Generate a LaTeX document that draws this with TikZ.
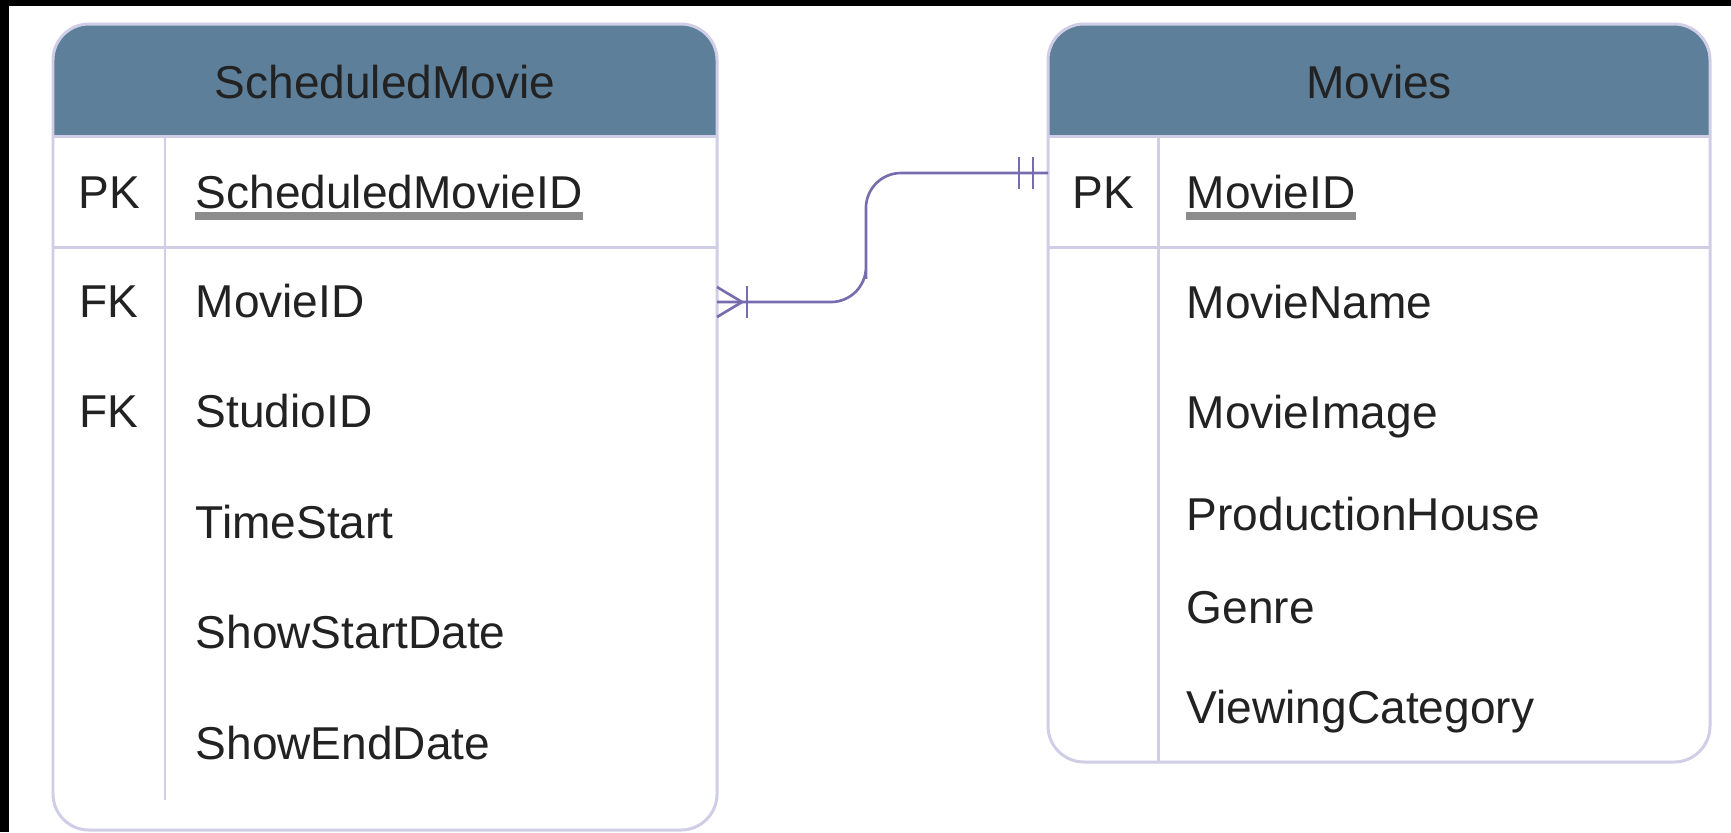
\documentclass[tikz,border=0pt]{standalone}
\usepackage{fontspec}
\setmainfont{Liberation Sans}
\usetikzlibrary{calc}
\definecolor{hdrblue}{HTML}{5D7F99}
\definecolor{edgelav}{HTML}{D0CEE6}
\definecolor{relpurple}{HTML}{776DAE}
\definecolor{txtgray}{HTML}{222222}
\definecolor{ulgray}{HTML}{8C8C8C}

\begin{document}
\begin{tikzpicture}[x=0.01cm,y=-0.01cm,
    txt/.style={inner sep=0pt,text=txtgray,font=\fontsize{13.1}{15}\selectfont},
    field/.style={txt,anchor=base west},
    keytag/.style={txt,anchor=base},
    title/.style={txt,anchor=base},
    grid/.style={edgelav,line width=0.85pt},
    rel/.style={relpurple,line width=0.75pt},
    pkline/.style={ulgray,line width=2.3pt},
    roundbox/.style={rounded corners=0.36cm}]
  \fill[black] (0,0) rectangle (1731,832);
  \fill[white] (9,6) rectangle (1731,832);
  \useasboundingbox (0,0) rectangle (1731,832);

  % ScheduledMovie
  \fill[white,roundbox] (53,24) rectangle (717,830);
  \begin{scope}
    \clip[roundbox] (53,24) rectangle (717,830);
    \fill[hdrblue] (53,24) rectangle (717,136);
  \end{scope}
  \draw[grid] (53,136) -- (717,136);
  \draw[grid] (53,247) -- (717,247);
  \draw[grid] (165,136) -- (165,800);
  \draw[grid,roundbox] (53,24) rectangle (717,830);
  \node[title] (smtitle) at (385,98) {ScheduledMovie};
  \node[keytag] (smk0) at (109,208) {PK};
  \node[field] (smf0) at (195,208) {ScheduledMovieID};
  \draw[pkline] ($(smf0.base west)+(0,8)$) -- ($(smf0.base east)+(0,8)$);
  \node[keytag] (smk1) at (109,317) {FK};
  \node[field] (smf1) at (195,317) {MovieID};
  \node[keytag] (smk2) at (109,427) {FK};
  \node[field] (smf2) at (195,427) {StudioID};
  \node[field] (smf3) at (195,538) {TimeStart};
  \node[field] (smf4) at (195,648) {ShowStartDate};
  \node[field] (smf5) at (195,759) {ShowEndDate};

  % Movies
  \fill[white,roundbox] (1048,24) rectangle (1710,762);
  \begin{scope}
    \clip[roundbox] (1048,24) rectangle (1710,762);
    \fill[hdrblue] (1048,24) rectangle (1710,136);
  \end{scope}
  \draw[grid] (1048,136) -- (1710,136);
  \draw[grid] (1048,247) -- (1710,247);
  \draw[grid] (1158,136) -- (1158,762);
  \draw[grid,roundbox] (1048,24) rectangle (1710,762);
  \node[title] (mvtitle) at (1379,98) {Movies};
  \node[keytag] (mvk0) at (1103,208) {PK};
  \node[field] (mvf0) at (1186,208) {MovieID};
  \draw[pkline] ($(mvf0.base west)+(0,8)$) -- ($(mvf0.base east)+(0,8)$);
  \node[field] (mvf1) at (1186,318) {MovieName};
  \node[field] (mvf2) at (1186,428) {MovieImage};
  \node[field] (mvf3) at (1186,530) {ProductionHouse};
  \node[field] (mvf4) at (1186,623) {Genre};
  \node[field] (mvf5) at (1186,723) {ViewingCategory};

  % relation
  \coordinate (smrel) at (717,302);
  \coordinate (mvrel) at (1048,173);
  \draw[rel,rounded corners=0.35cm] (smrel) -| ($(smrel)!0.45!(mvrel)$) |- (mvrel);
  \draw[rel] ($(smrel)+(0,-15)$) -- ($(smrel)+(25,0)$) -- ($(smrel)+(0,15)$);
  \draw[rel] ($(smrel)+(30,-16)$) -- ($(smrel)+(30,16)$);
  \draw[rel] ($(mvrel)+(-29,-16)$) -- ($(mvrel)+(-29,16)$);
  \draw[rel] ($(mvrel)+(-15,-16)$) -- ($(mvrel)+(-15,16)$);
\end{tikzpicture}
\end{document}
